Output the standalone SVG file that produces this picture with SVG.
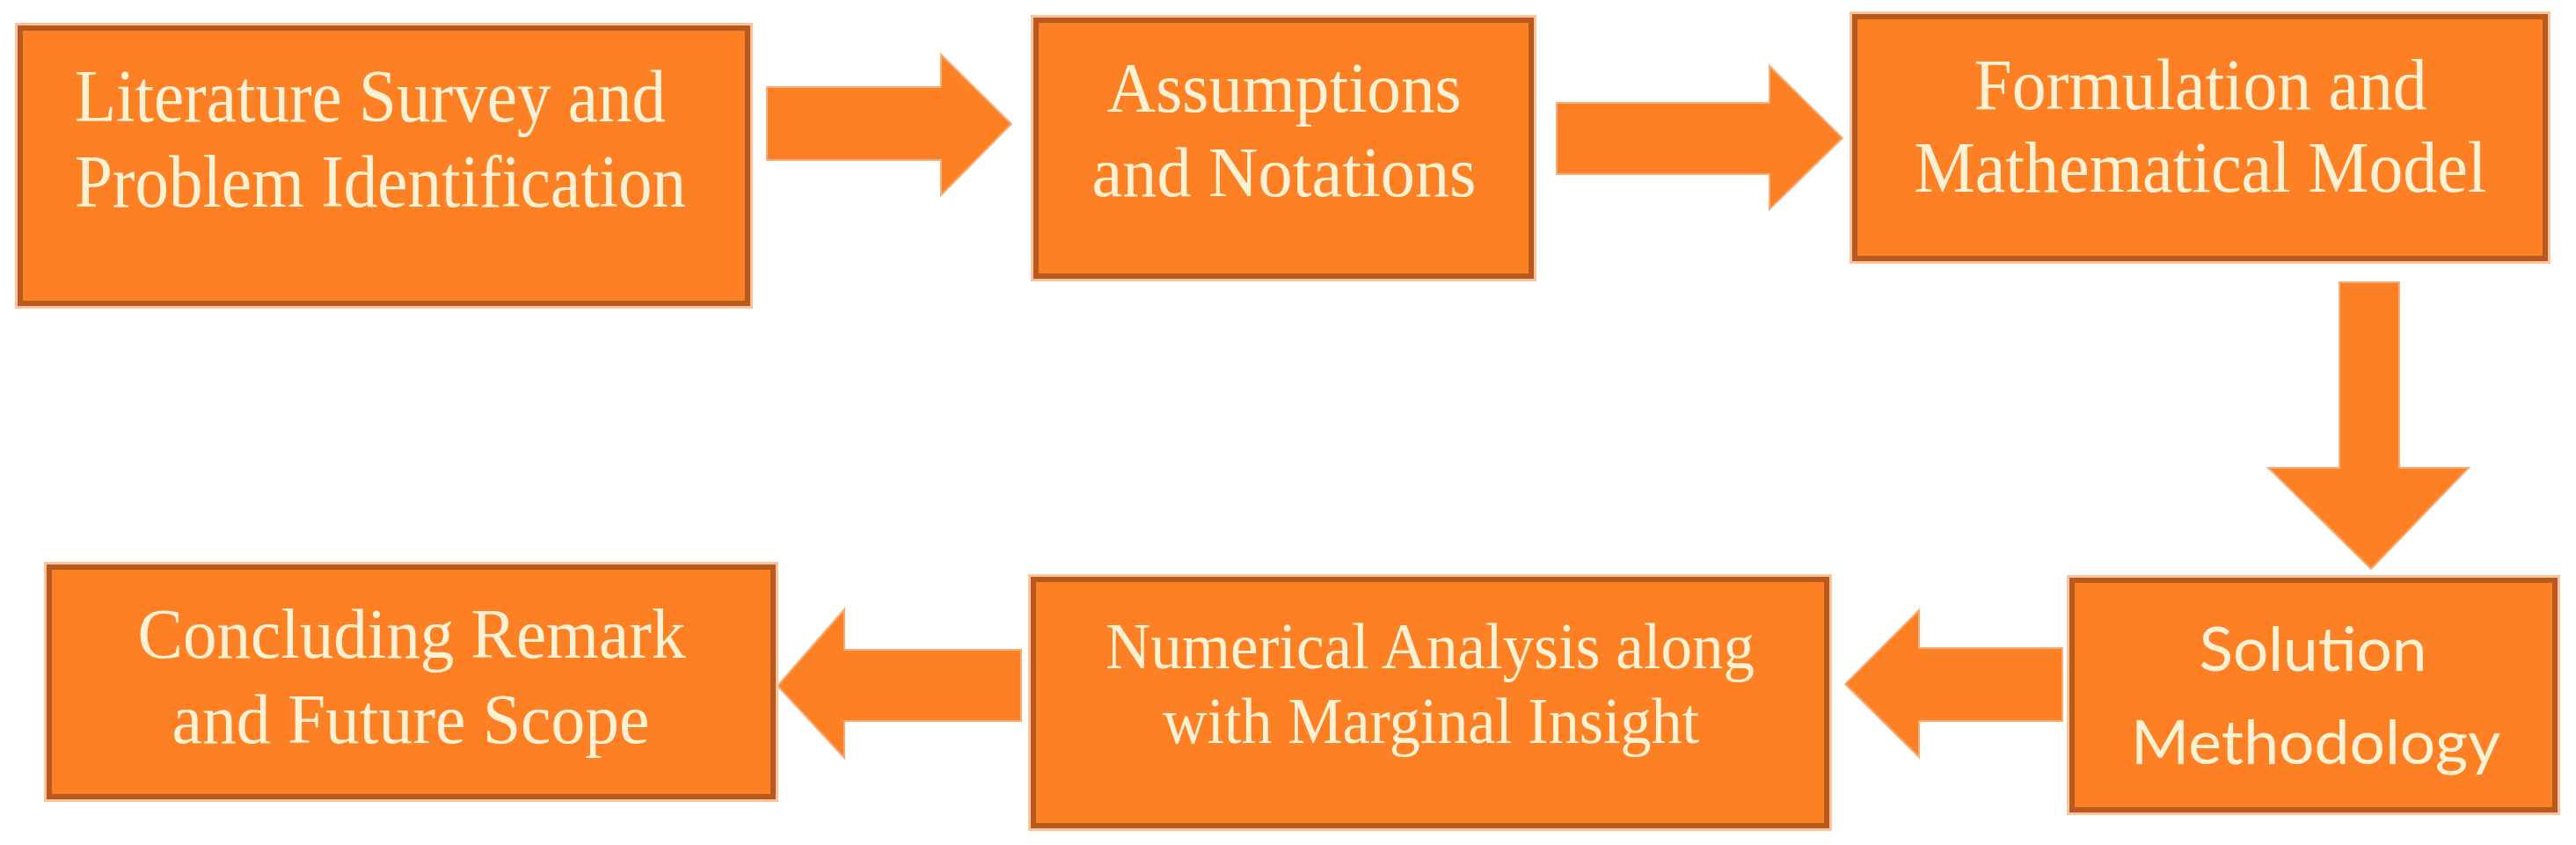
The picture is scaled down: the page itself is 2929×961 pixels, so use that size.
<svg xmlns="http://www.w3.org/2000/svg" width="2929" height="961" viewBox="0 0 2929 961">
  <style>
    .box { fill: #FD8124; stroke: #B85A20; stroke-width: 6; }
    .halo { fill: none; stroke: #FBC49C; stroke-width: 4; }
    .serif { font-family: "Liberation Serif", "Times New Roman", serif; fill: #FFF2D4; }
    .sans { font-family: Lato, "Liberation Sans", sans-serif; fill: #FFF2D4; }
    .arrow { fill: #FD8124; stroke: #F4AE78; stroke-width: 2; }
  </style>
  <rect width="2929" height="961" fill="#FFFFFF"/>

  <g id="connectors">
    <polygon class="arrow" points="872,99 1070,99 1070,62 1150,141 1070,222 1070,182 872,182"/>
    <polygon class="arrow" points="1770,117 2012,117 2012,75 2095,157 2012,238 2012,198 1770,198"/>
    <polygon class="arrow" points="2660,321 2728,321 2728,532 2807,532 2696,647 2579,532 2660,532"/>
    <polygon class="arrow" points="2345,737 2182,737 2182,694 2098,778 2182,861 2182,820 2345,820"/>
    <polygon class="arrow" points="1161,739 960,739 960,693 884,780 960,862 960,820 1161,820"/>
  </g>

  <g id="literature">
    <rect class="halo" x="19" y="28" width="835" height="321"/>
    <rect class="box" x="23" y="32" width="827" height="313"/>
    <text class="serif" font-size="84" x="85" y="138" textLength="672" lengthAdjust="spacingAndGlyphs">Literature Survey and</text>
    <text class="serif" font-size="84" x="85" y="235" textLength="695" lengthAdjust="spacingAndGlyphs">Problem Identification</text>
  </g>

  <g id="assumptions">
    <rect class="halo" x="1174" y="19" width="571" height="299"/>
    <rect class="box" x="1178" y="23" width="563" height="291"/>
    <text class="serif" font-size="80" x="1460" y="127" text-anchor="middle" textLength="403" lengthAdjust="spacingAndGlyphs">Assumptions</text>
    <text class="serif" font-size="80" x="1460" y="223" text-anchor="middle" textLength="437" lengthAdjust="spacingAndGlyphs">and Notations</text>
  </g>

  <g id="formulation">
    <rect class="halo" x="2105" y="15" width="793" height="283"/>
    <rect class="box" x="2109" y="19" width="785" height="275"/>
    <text class="serif" font-size="82" x="2502" y="124" text-anchor="middle" textLength="515" lengthAdjust="spacingAndGlyphs">Formulation and</text>
    <text class="serif" font-size="82" x="2502" y="218" text-anchor="middle" textLength="651" lengthAdjust="spacingAndGlyphs">Mathematical Model</text>
  </g>

  <g id="solution">
    <rect class="halo" x="2352" y="656" width="557" height="269"/>
    <rect class="box" x="2356" y="660" width="549" height="261"/>
    <text class="sans" font-size="70" x="2630" y="763" text-anchor="middle" textLength="259" lengthAdjust="spacingAndGlyphs">Solution</text>
    <text class="sans" font-size="70" x="2633" y="869" text-anchor="middle" textLength="420" lengthAdjust="spacingAndGlyphs">Methodology</text>
  </g>

  <g id="numerical">
    <rect class="halo" x="1171" y="655" width="910" height="288"/>
    <rect class="box" x="1175" y="659" width="902" height="280"/>
    <text class="serif" font-size="74" x="1626" y="760" text-anchor="middle" textLength="738" lengthAdjust="spacingAndGlyphs">Numerical Analysis along</text>
    <text class="serif" font-size="74" x="1627" y="845" text-anchor="middle" textLength="610" lengthAdjust="spacingAndGlyphs">with Marginal Insight</text>
  </g>

  <g id="concluding">
    <rect class="halo" x="52" y="641" width="831" height="269"/>
    <rect class="box" x="56" y="645" width="823" height="261"/>
    <text class="serif" font-size="80" x="468" y="748" text-anchor="middle" textLength="623" lengthAdjust="spacingAndGlyphs">Concluding Remark</text>
    <text class="serif" font-size="80" x="467" y="845" text-anchor="middle" textLength="543" lengthAdjust="spacingAndGlyphs">and Future Scope</text>
  </g>
</svg>
